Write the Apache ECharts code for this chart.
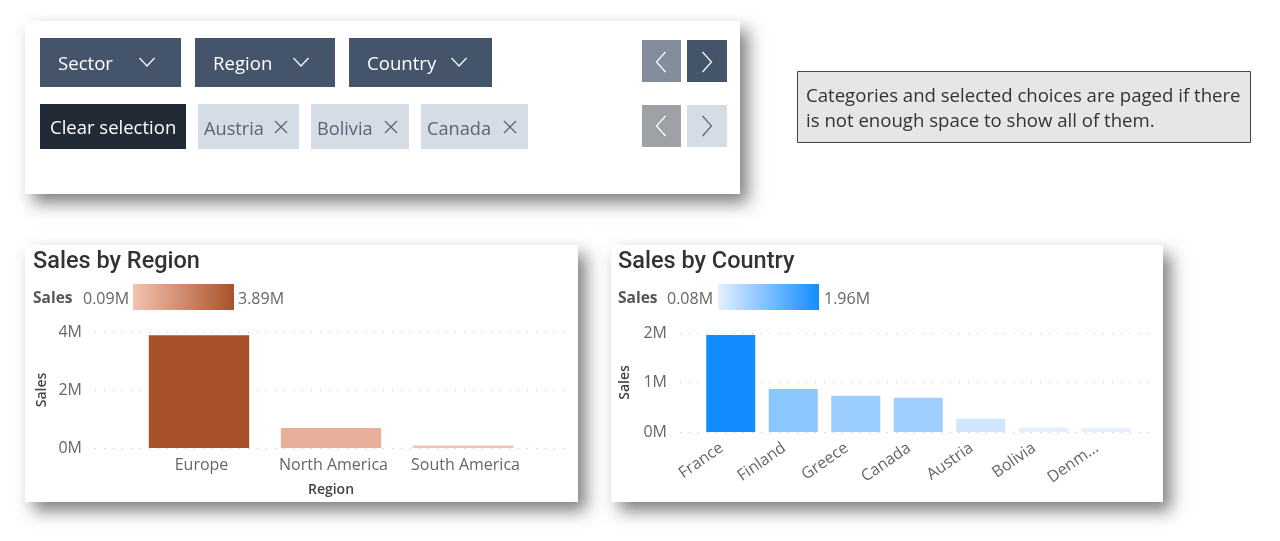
<!DOCTYPE html>
<html>
<head>
<meta charset="utf-8">
<title>Sales</title>
<script src="https://cdn.jsdelivr.net/npm/echarts@6/dist/echarts.min.js"></script>
<style>
  html, body { margin: 0; padding: 0; background: #fff; }
  #main { width: 1280px; height: 541px; }
</style>
</head>
<body>
<div id="main"></div>
<script>
// data, in millions
var regions = ['Europe', 'North America', 'South America'];
var regionSales = [3.89, 0.69, 0.09];
var countries = ['France', 'Finland', 'Greece', 'Canada', 'Austria', 'Bolivia', 'Denm...'];
var countrySales = [1.96, 0.87, 0.73, 0.69, 0.27, 0.09, 0.08];
var regionTicks = { max: 4, step: 2 };
var countryTicks = { max: 2, step: 1 };
var regionColors = ['#f4c2af', '#a9522a'];
var countryColors = ['#e5efff', '#118dff'];

var font = '"Open Sans", "Noto Sans", sans-serif';
var titleFont = 'Roboto, "Noto Sans", sans-serif';
var gridGrey = '#c4c4c4';
var labelGrey = '#666666';

var graphics = [];

function card(x, y, w, h) {
  graphics.push({
    type: 'rect', z: -10,
    shape: { x: x, y: y, width: w, height: h },
    style: { fill: '#fff', shadowBlur: 16, shadowOffsetX: 8, shadowOffsetY: 9, shadowColor: 'rgba(0,0,0,0.5)' }
  });
}
function box(x, y, w, h, fill, stroke) {
  graphics.push({
    type: 'rect', z: 5,
    shape: { x: x, y: y, width: w, height: h },
    style: { fill: fill, stroke: stroke || null, lineWidth: stroke ? 1 : 0 }
  });
}
// y is the visual centre of the text, middle alignment sits about 2px high
function label(str, x, y, color, size, opts) {
  opts = opts || {};
  graphics.push({
    type: 'text', z: 6, x: x, y: y + 2,
    style: {
      text: str, fill: color, fontSize: size, fontFamily: opts.family || font,
      fontWeight: opts.weight || 'normal', align: opts.align || 'left', verticalAlign: 'middle'
    }
  });
}
function stroke(points, color, width) {
  graphics.push({
    type: 'polyline', z: 6,
    shape: { points: points },
    style: { stroke: color, lineWidth: width || 1.2, fill: null }
  });
}
function chevronDown(cx, cy, color) {
  stroke([[cx - 7.5, cy - 4], [cx, cy + 4], [cx + 7.5, cy - 4]], color);
}
function chevronSide(cx, cy, dir, color) {
  stroke([[cx - dir * 4.5, cy - 10], [cx + dir * 4.5, cy], [cx - dir * 4.5, cy + 10]], color);
}
function cross(cx, cy, color) {
  stroke([[cx - 6, cy - 6], [cx + 6, cy + 6]], color);
  stroke([[cx - 6, cy + 6], [cx + 6, cy - 6]], color);
}
function legend(values, colors, nameX, minX, barX, maxX) {
  var lo = Math.min.apply(null, values), hi = Math.max.apply(null, values);
  label('Sales', nameX, 297, '#555', 15.5, { weight: 'bold' });
  label(lo.toFixed(2) + 'M', minX, 297, labelGrey, 16);
  box(barX, 284, 101, 26, new echarts.graphic.LinearGradient(0, 0, 1, 0, [
    { offset: 0, color: colors[0] }, { offset: 1, color: colors[1] }
  ]));
  label(hi.toFixed(2) + 'M', maxX, 297, labelGrey, 16);
}

// slicer panel
card(25, 21, 715, 173);
[['Sector', 40, 141, 147], ['Region', 195, 140, 301], ['Country', 349, 143, 459]].forEach(function (b) {
  box(b[1], 38, b[2], 49, '#44546a');
  label(b[0], b[1] + 18, 63, '#fff', 18.6);
  chevronDown(b[3], 62, '#fff');
});
box(40, 104, 146, 45, '#222a35');
label('Clear selection', 50, 127, '#fff', 18.5);
[['Austria', 198, 101, 281], ['Bolivia', 311, 98, 391], ['Canada', 421, 107, 510]].forEach(function (c) {
  box(c[1], 104, c[2], 45, '#d6dce5');
  label(c[0], c[1] + 6, 128, '#59647a', 18.2);
  cross(c[3], 127, '#59647a');
});
box(642, 40, 39, 42, '#838d9b');
chevronSide(661, 62, -1, '#fff');
box(687, 40, 40, 42, '#44546a');
chevronSide(707, 62, 1, '#fff');
box(642, 105, 39, 42, '#9ea2a7');
chevronSide(661, 126, -1, '#fff');
box(687, 105, 40, 42, '#d6dce5');
chevronSide(707, 126, 1, '#59647a');

// note
box(797.5, 71.5, 453, 71, '#e6e6e6', '#444');
label('Categories and selected choices are paged if there', 806, 95, '#333', 18.6);
label('is not enough space to show all of them.', 806, 120, '#333', 18.6);

// chart cards
card(25, 245, 553, 257);
card(611, 245, 552, 257);
label('Sales by Region', 33, 260, '#333', 23.5, { family: titleFont, weight: 500 });
label('Sales by Country', 618, 260, '#333', 23.5, { family: titleFont, weight: 500 });
legend(regionSales, regionColors, 33, 83, 133, 238);
legend(countrySales, countryColors, 618, 667, 718, 824);

function frameAxes(gridIndex, ticks, axisName, nameGap) {
  return {
    x: { type: 'category', gridIndex: gridIndex, show: false, data: [] },
    y: {
      type: 'value', gridIndex: gridIndex, min: 0, max: ticks.max, interval: ticks.step,
      name: axisName, nameLocation: 'middle', nameRotate: 90, nameGap: nameGap,
      nameTextStyle: { color: '#444', fontSize: 14, fontWeight: 600, fontFamily: font },
      axisLine: { show: false }, axisTick: { show: false },
      axisLabel: { color: labelGrey, fontSize: 16, fontFamily: font, margin: 13, padding: [4, 0, 0, 0], formatter: '{value}M' },
      splitLine: { lineStyle: { color: gridGrey, type: [1, 8], width: 1 } }
    }
  };
}
function hiddenY(gridIndex, ticks) {
  return { type: 'value', gridIndex: gridIndex, min: 0, max: ticks.max, show: false, splitLine: { show: false } };
}
function colorMap(values, seriesIndex, colors) {
  return {
    type: 'continuous', show: false, seriesIndex: seriesIndex,
    min: Math.min.apply(null, values), max: Math.max.apply(null, values),
    inRange: { color: colors }
  };
}

var regionFrame = frameAxes(0, regionTicks, 'Sales', 46);
var countryFrame = frameAxes(2, countryTicks, 'Sales', 48);

var option = {
  animation: false,
  backgroundColor: '#fff',
  graphic: { elements: graphics },
  grid: [
    { left: 95, width: 475, top: 332, height: 116 },
    { left: 133, width: 396, top: 332, height: 116 },
    { left: 680, width: 475, top: 333, height: 99 },
    { left: 699.5, width: 437.5, top: 333, height: 99 }
  ],
  xAxis: [
    regionFrame.x,
    {
      type: 'category', gridIndex: 1, data: regions,
      name: 'Region', nameLocation: 'middle', nameGap: 35,
      nameTextStyle: { color: '#444', fontSize: 14, fontWeight: 600, fontFamily: font },
      axisLine: { show: false }, axisTick: { show: false },
      axisLabel: { color: labelGrey, fontSize: 16, fontFamily: font, margin: 9, interval: 0, padding: [0, 0, 0, 5] }
    },
    countryFrame.x,
    {
      type: 'category', gridIndex: 3, data: countries,
      axisLine: { show: false }, axisTick: { show: false },
      axisLabel: { color: labelGrey, fontSize: 16, fontFamily: font, margin: 8, interval: 0, rotate: 35, padding: [0, 11, 0, 0] }
    }
  ],
  yAxis: [regionFrame.y, hiddenY(1, regionTicks), countryFrame.y, hiddenY(3, countryTicks)],
  visualMap: [
    colorMap(regionSales, 0, regionColors),
    colorMap(countrySales, 1, countryColors)
  ],
  series: [
    { type: 'bar', xAxisIndex: 1, yAxisIndex: 1, data: regionSales, barCategoryGap: '24%' },
    { type: 'bar', xAxisIndex: 3, yAxisIndex: 3, data: countrySales, barCategoryGap: '21.6%' }
  ]
};

var chart = echarts.init(document.getElementById('main'));
chart.setOption(option);
</script>
</body>
</html>
